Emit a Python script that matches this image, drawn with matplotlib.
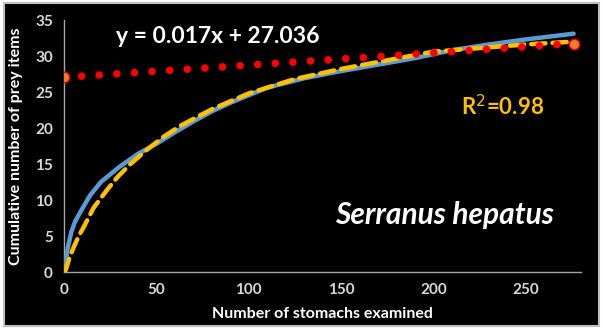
import matplotlib.pyplot as plt
from matplotlib.patches import Rectangle

# observed cumulative curve
obs_x = [1, 2, 4, 6, 9, 14, 20, 30, 40, 50, 60, 70, 80, 90, 110, 130, 150, 170, 190, 210, 230, 250, 276]
obs_y = [1.3, 3.3, 5.6, 7.0, 8.4, 10.6, 12.5, 14.6, 16.4, 17.8, 19.4, 20.9, 22.3, 23.5, 25.6, 26.9, 27.9, 28.8, 29.7, 30.8, 31.6, 32.3, 33.1]

# fitted curve (dashed)
fit_x = [0, 1, 3, 5, 8, 11, 16, 23, 29, 36, 45, 54, 63, 80, 100, 125, 150, 175, 200, 225, 250, 276]
fit_y = [0, 0.3, 2.0, 3.3, 5.0, 6.4, 8.9, 11.3, 13.2, 15.0, 17.0, 18.8, 20.3, 22.6, 24.8, 26.8, 28.2, 29.4, 30.6, 31.1, 31.6, 32.0]

# linear trend of last points
lin_x = [0, 276]
lin_y = [27.036, 31.728]

xticks = [0, 50, 100, 150, 200, 250]
yticks = [0, 5, 10, 15, 20, 25, 30, 35]

plt.rcParams['font.family'] = ['Lato', 'DejaVu Sans']

fig = plt.figure(figsize=(6.03, 3.29), dpi=100, facecolor='white')
fig.patches.append(Rectangle((4 / 603, 3 / 329), 595 / 603, 323 / 329, transform=fig.transFigure,
                             facecolor='black', edgecolor='#bfbfbf', linewidth=1.5, zorder=-10))

ax = fig.add_axes([64 / 603, 57 / 329, 517 / 603, 252 / 329])
ax.set_facecolor('black')

ax.plot(obs_x, obs_y, color='#5b9bd5', lw=3.2, solid_capstyle='round', zorder=3)
ax.plot(fit_x, fit_y, color='#ffc000', lw=3.2, linestyle=(0, (3.2, 1.6)), dash_capstyle='round', zorder=4)
ax.plot(lin_x, lin_y, color='#ff0000', lw=5.5, linestyle=(0, (0.01, 2.3)), dash_capstyle='round', zorder=5)
ax.plot(lin_x, lin_y, linestyle='none', marker='o', ms=7.5, markerfacecolor='#ed7d31',
        markeredgecolor='#ff0000', markeredgewidth=1, zorder=6)

ax.set_xlim(0, 280)
ax.set_ylim(0, 35)
ax.set_xticks(xticks)
ax.set_yticks(yticks)
ax.tick_params(colors='#d9d9d9', labelsize=11, length=0, pad=8)
for lab in ax.get_xticklabels() + ax.get_yticklabels():
    lab.set_fontweight('bold')

for s in ['top', 'right']:
    ax.spines[s].set_visible(False)
for s in ['left', 'bottom']:
    ax.spines[s].set_color('#a6a6a6')
    ax.spines[s].set_linewidth(1)

ax.set_xlabel('Number of stomachs examined', color='white', fontsize=11.5, fontweight='bold', labelpad=7)
ax.set_ylabel('Cumulative number of prey items', color='white', fontsize=11.5, fontweight='bold', labelpad=9)

ax.text(28, 32.7, 'y = 0.017x + 27.036', color='white', fontsize=16.5, fontweight='bold', va='center')
ax.text(215, 23.0, 'R$^2$=0.98', color='#ffc000', fontsize=16, fontweight='bold', va='center')
ax.text(147, 7.9, 'Serranus hepatus', color='white', fontsize=21.5, fontweight='bold', style='italic', va='center')

fig.savefig('out.png', dpi=100, facecolor='white')
